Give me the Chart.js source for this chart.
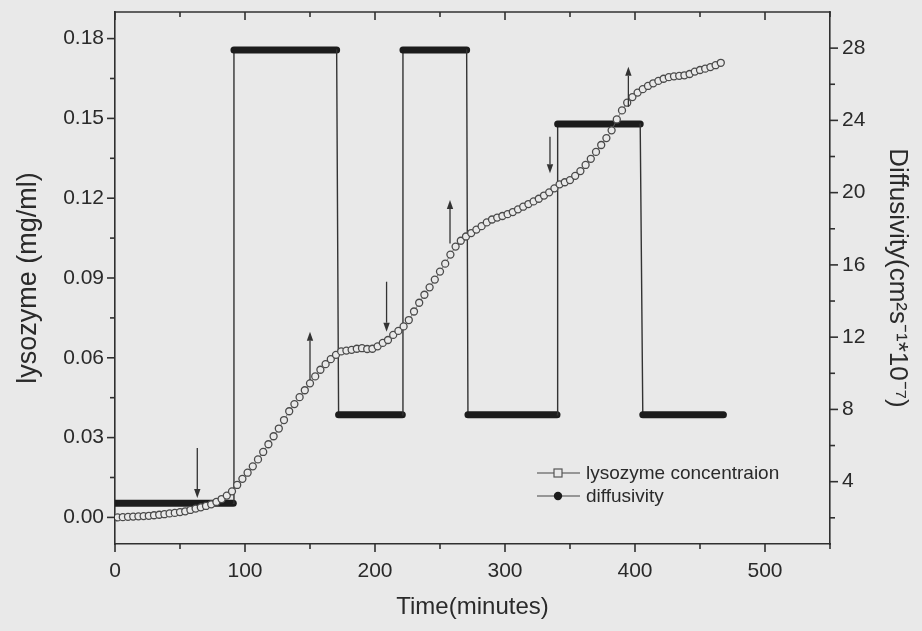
<!DOCTYPE html>
<html><head><meta charset="utf-8">
<script src="https://cdn.jsdelivr.net/npm/chart.js@4.4.0/dist/chart.umd.min.js"></script>
<style>html,body{margin:0;padding:0;background:#e9e9e9;}#wrap{width:922px;height:631px;}</style>
</head><body><div id="wrap"><canvas id="c" width="922" height="631"></canvas></div>
<script>
// ---- data ----
const timeMin = [2,6,10,14,18,22,26,30,34,38,42,46,50,54,58,62,66,70,74,78,82,86,90,94,98,102,106,110,114,118,
  122,126,130,134,138,142,146,150,154,158,162,166,170,174,178,182,186,190,194,198,202,206,210,214,218,222,226,230,234,238,
  242,246,250,254,258,262,266,270,274,278,282,286,290,294,298,302,306,310,314,318,322,326,330,334,338,342,346,350,354,358,
  362,366,370,374,378,382,386,390,394,398,402,406,410,414,418,422,426,430,434,438,442,446,450,454,458,462,466];
const lysozyme = [0.0000,0.0001,0.0002,0.0003,0.0004,0.0005,0.0006,0.0008,0.0010,0.0012,
  0.0015,0.0017,0.0020,0.0023,0.0028,0.0033,0.0038,0.0043,0.0049,0.0058,
  0.0069,0.0082,0.0098,0.0122,0.0145,0.0168,0.0192,0.0218,0.0246,0.0275,
  0.0305,0.0334,0.0366,0.0399,0.0426,0.0452,0.0478,0.0504,0.0530,0.0555,
  0.0576,0.0595,0.0611,0.0624,0.0627,0.0630,0.0634,0.0636,0.0633,0.0634,
  0.0643,0.0656,0.0667,0.0686,0.0701,0.0718,0.0742,0.0774,0.0807,0.0837,
  0.0865,0.0894,0.0924,0.0954,0.0988,0.1018,0.1040,0.1056,0.1069,0.1082,
  0.1095,0.1109,0.1120,0.1127,0.1133,0.1140,0.1148,0.1158,0.1168,0.1178,
  0.1188,0.1198,0.1210,0.1222,0.1237,0.1252,0.1260,0.1268,0.1284,0.1302,
  0.1325,0.1348,0.1374,0.1400,0.1426,0.1455,0.1496,0.1530,0.1559,0.1580,
  0.1597,0.1610,0.1622,0.1632,0.1641,0.1649,0.1655,0.1658,0.1660,0.1662,
  0.1667,0.1676,0.1682,0.1687,0.1693,0.1700,0.1709];
const diffTime = [0,91,91.5,170.5,172,221,221.5,270.5,271.5,340,340.5,404,406,468];
const diffusivity = [2.8,2.8,27.9,27.9,7.7,7.7,27.9,27.9,7.7,7.7,23.8,23.8,7.7,7.7];

const xMajorTicks = [0,100,200,300,400,500];
const xMinorTicks = [50,150,250,350,450,550];
const yLeftMajor = [0,0.03,0.06,0.09,0.12,0.15,0.18];
const yLeftMinor = [0.015,0.045,0.075,0.105,0.135,0.165];
const yRightMajor = [4,8,12,16,20,24,28];
const yRightMinor = [2,6,10,14,18,22,26];

const arrowTime = [63.3,150,208.9,257.7,334.6,394.9];
const arrowFrom = [0.0261,0.0517,0.0886,0.1030,0.1431,0.1544];
const arrowTo   = [0.0073,0.0698,0.0698,0.1193,0.1294,0.1694];

const legendLabels = ['lysozyme concentraion','diffusivity'];

// ---- styling ----
const FONT = "'Liberation Sans', Arial, sans-serif";
const INK = '#2a2a2a';
const BG = '#e9e9e9';

const frameTicks = {
  id: 'frameTicks',
  afterDraw(chart) {
    const {ctx, chartArea: a, scales: {x, y, y2}} = chart;
    ctx.save();
    ctx.strokeStyle = '#303030';
    ctx.lineWidth = 1.6;
    const seg = (x1, y1, x2, y2_) => { ctx.beginPath(); ctx.moveTo(x1, y1); ctx.lineTo(x2, y2_); ctx.stroke(); };
    seg(a.left - 0.8, a.top, a.right + 0.8, a.top);
    xMajorTicks.forEach(v => { const p = x.getPixelForValue(v); seg(p, a.bottom, p, a.bottom + 8); seg(p, a.top, p, a.top + 8); });
    xMinorTicks.forEach(v => { const p = x.getPixelForValue(v); seg(p, a.bottom, p, a.bottom + 5); seg(p, a.top, p, a.top + 5); });
    yLeftMajor.forEach(v => { const p = y.getPixelForValue(v); seg(a.left - 8, p, a.left, p); });
    yLeftMinor.forEach(v => { const p = y.getPixelForValue(v); seg(a.left - 5, p, a.left, p); });
    yRightMajor.forEach(v => { const p = y2.getPixelForValue(v); seg(a.right, p, a.right + 8, p); });
    yRightMinor.forEach(v => { const p = y2.getPixelForValue(v); seg(a.right, p, a.right + 5, p); });
    ctx.restore();
  }
};

const arrows = {
  id: 'arrows',
  afterDatasetsDraw(chart) {
    const {ctx, scales: {x, y}} = chart;
    ctx.save();
    ctx.strokeStyle = '#333'; ctx.fillStyle = '#333'; ctx.lineWidth = 1.3;
    arrowTime.forEach((t, i) => {
      const px = x.getPixelForValue(t), p1 = y.getPixelForValue(arrowFrom[i]), p2 = y.getPixelForValue(arrowTo[i]);
      const dir = Math.sign(p2 - p1), head = 9, hw = 3.2;
      ctx.beginPath(); ctx.moveTo(px, p1); ctx.lineTo(px, p2 - dir * head); ctx.stroke();
      ctx.beginPath(); ctx.moveTo(px, p2); ctx.lineTo(px - hw, p2 - dir * head); ctx.lineTo(px + hw, p2 - dir * head); ctx.closePath(); ctx.fill();
    });
    ctx.restore();
  }
};

const customLegend = {
  id: 'customLegend',
  afterDraw(chart) {
    const {ctx} = chart;
    ctx.save();
    ctx.font = '19px ' + FONT; ctx.fillStyle = INK; ctx.textBaseline = 'middle';
    const rows = [473, 496];
    rows.forEach((ry, i) => {
      ctx.strokeStyle = '#444'; ctx.lineWidth = 1.2;
      ctx.beginPath(); ctx.moveTo(537, ry); ctx.lineTo(580, ry); ctx.stroke();
      if (i === 0) {
        ctx.fillStyle = BG; ctx.fillRect(554, ry - 4, 8, 8);
        ctx.strokeStyle = '#555'; ctx.strokeRect(554, ry - 4, 8, 8);
      } else {
        ctx.fillStyle = '#1c1c1c'; ctx.beginPath(); ctx.arc(558, ry, 4.2, 0, Math.PI * 2); ctx.fill();
      }
      ctx.fillStyle = INK;
      ctx.fillText(legendLabels[i], 586, ry + 1);
    });
    ctx.restore();
  }
};

const bgPlugin = {
  id: 'bg',
  beforeDraw(chart) { const c = chart.ctx; c.save(); c.fillStyle = BG; c.fillRect(0, 0, chart.width, chart.height); c.restore(); }
};

const fixV = w => s => { s.width = w; s.paddingTop = 0; s.paddingBottom = 0; };

new Chart(document.getElementById('c'), {
  type: 'line',
  data: {
    datasets: [
      {
        label: legendLabels[0],
        data: timeMin.map((t, i) => ({x: t, y: lysozyme[i]})),
        yAxisID: 'y',
        order: 0,
        showLine: true,
        borderColor: '#666', borderWidth: 0.8,
        pointStyle: 'circle', pointRadius: 3.5,
        pointBorderColor: '#4a4a4a', pointBorderWidth: 1.3,
        pointBackgroundColor: BG
      },
      {
        label: legendLabels[1],
        data: diffTime.map((t, i) => ({x: t, y: diffusivity[i]})),
        yAxisID: 'y2',
        order: 1,
        pointRadius: 0,
        borderColor: '#1c1c1c',
        borderWidth: 1.4,
        borderCapStyle: 'round',
        segment: {
          borderWidth: c => (c.p0.parsed.y === c.p1.parsed.y ? 7 : 1.4),
          borderColor: c => (c.p0.parsed.y === c.p1.parsed.y ? '#1c1c1c' : '#333')
        }
      }
    ]
  },
  options: {
    responsive: false, animation: false, devicePixelRatio: 1, events: [],
    layout: {padding: {top: 12, left: 0, right: 0, bottom: 0}},
    plugins: {legend: {display: false}, tooltip: {enabled: false}},
    scales: {
      x: {
        type: 'linear', position: 'bottom', min: 0, max: 550,
        grid: {display: false, drawTicks: false},
        border: {display: true, color: '#303030', width: 1.6},
        afterBuildTicks: s => { s.ticks = xMajorTicks.map(v => ({value: v})); },
        afterFit: s => { s.height = 87; s.paddingLeft = 0; s.paddingRight = 0; },
        ticks: {font: {family: FONT, size: 21}, color: INK, padding: 15, maxRotation: 0, callback: v => String(v)},
        title: {display: true, text: 'Time(minutes)', font: {family: FONT, size: 24}, color: INK, padding: {top: 0, bottom: 9}}
      },
      y: {
        type: 'linear', position: 'left', min: -0.01, max: 0.19,
        grid: {display: false, drawTicks: false},
        border: {display: true, color: '#303030', width: 1.6},
        afterBuildTicks: s => { s.ticks = yLeftMajor.map(v => ({value: v})); },
        afterFit: fixV(115),
        ticks: {font: {family: FONT, size: 21}, color: INK, padding: 11, callback: v => Number(v).toFixed(2)},
        title: {display: true, text: 'lysozyme (mg/ml)', font: {family: FONT, size: 27}, color: INK, padding: {top: 12, bottom: 0}}
      },
      y2: {
        type: 'linear', position: 'right', min: 0.55, max: 30,
        grid: {display: false, drawTicks: false},
        border: {display: true, color: '#303030', width: 1.6},
        afterBuildTicks: s => { s.ticks = yRightMajor.map(v => ({value: v})); },
        afterFit: fixV(92),
        ticks: {font: {family: FONT, size: 21}, color: INK, padding: 12, callback: v => String(v)},
        title: {display: true, text: 'Diffusivity(cm\u00B2s\u207B\u00B9*10\u207B\u2077)', font: {family: FONT, size: 26}, color: INK, padding: {top: 9, bottom: 0}}
      }
    }
  },
  plugins: [bgPlugin, frameTicks, arrows, customLegend]
});
</script>
</body></html>
